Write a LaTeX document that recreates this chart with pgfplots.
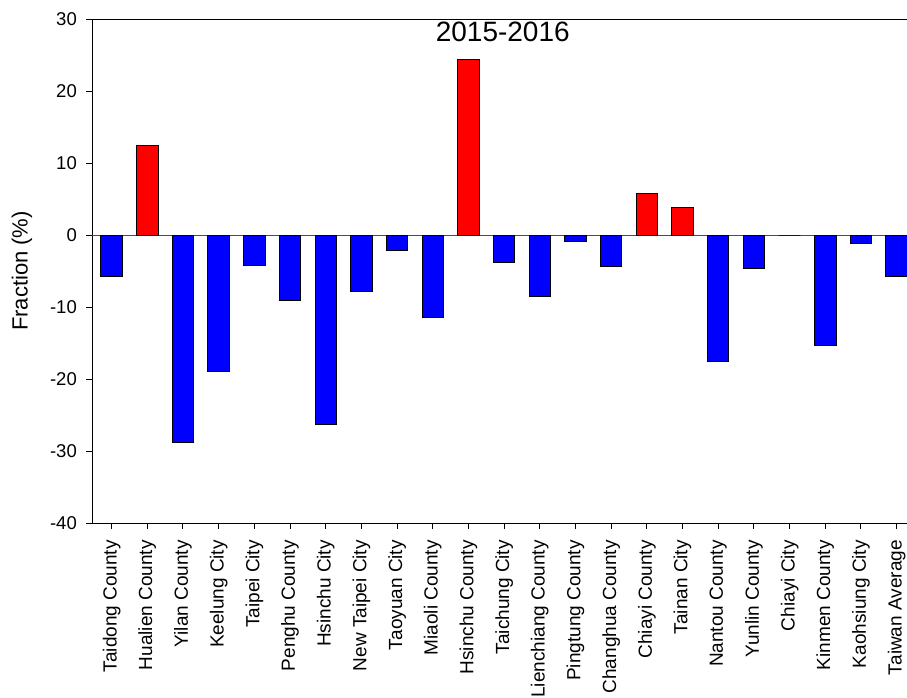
\documentclass[border=0pt]{standalone}
\usepackage{pgfplots}
\pgfplotsset{compat=1.18}
\usepackage{fontspec}
\setmainfont{Liberation Sans}

\begin{document}
\begin{tikzpicture}
\useasboundingbox (0,0) rectangle (907pt,697pt);
\begin{axis}[
  at={(92pt,174pt)}, anchor=south west,
  scale only axis, width=815pt, height=504pt,
  xmin=-0.55, xmax=22.29, ymin=-40, ymax=30,
  ybar, bar width=0.6,
  axis x line*=box, axis y line*=left,
  axis line style={-, black, line width=1pt},
  tick align=outside, major tick length=6pt,
  tick style={black, line width=1pt},
  xtick pos=bottom, ytick pos=left,
  xtick={0,...,22},
  xticklabels={Taidong County, Hualien County, Yilan County, Keelung City,
    Taipei City, Penghu County, Hsinchu City, New Taipei City, Taoyuan City,
    Miaoli County, Hsinchu County, Taichung City, Lienchiang County,
    Pingtung County, Changhua County, Chiayi County, Tainan City,
    Nantou County, Yunlin County, Chiayi City, Kinmen County,
    Kaohsiung City, Taiwan Average},
  ytick={-40,-30,...,30},
  yticklabels={-40,-30,-20,-10,0,10,20,30},
  yticklabel style={font=\fontsize{18.5}{20}\selectfont, inner sep=0pt, xshift=-9pt},
  xticklabel style={font=\fontsize{19}{20}\selectfont, rotate=90, anchor=east,
    inner sep=0pt, xshift=-11pt},
  ylabel={Fraction (\%)},
  ylabel style={font=\fontsize{22}{24}\selectfont,
    at={(axis description cs:-0.0859,0.5)}, anchor=center},
  title={2015-2016},
  title style={font=\fontsize{28}{30}\selectfont,
    at={(axis description cs:0.504,0.9425)}, anchor=base},
]
% zero reference line
\draw[gray!60!black, line width=1pt] (axis cs:-0.55,0) -- (axis cs:22.29,0);
% decreases
\addplot[bar shift=0pt, fill=blue, draw=black, line width=1pt] coordinates {
  (0,-5.7) (2,-28.8) (3,-18.9) (4,-4.3) (5,-9.1) (6,-26.3) (7,-7.8)
  (8,-2.1) (9,-11.4) (11,-3.8) (12,-8.6) (13,-0.9) (14,-4.4)
  (17,-17.6) (18,-4.6) (19,0) (20,-15.3) (21,-1.2) (22,-5.8)
};
% increases
\addplot[bar shift=0pt, fill=red, draw=black, line width=1pt] coordinates {
  (1,12.4) (10,24.4) (15,5.8) (16,3.8)
};
\end{axis}
\end{tikzpicture}
\end{document}
